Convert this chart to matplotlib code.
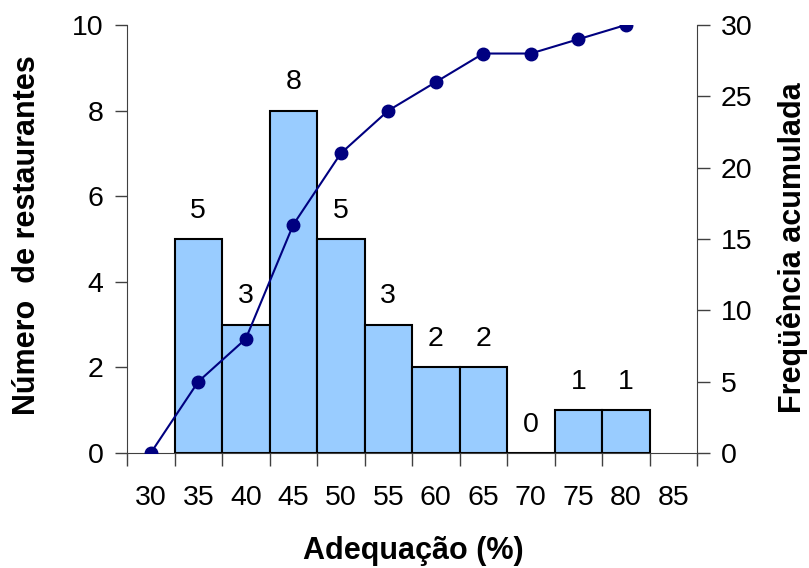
import matplotlib
matplotlib.use("Agg")
import matplotlib.pyplot as plt
import numpy as np

plt.rcParams['font.family'] = ['Liberation Sans', 'DejaVu Sans']

# Category labels (class midpoints, % adequacy)
categories = ["30", "35", "40", "45", "50", "55", "60", "65", "70", "75", "80", "85"]
# Number of restaurants per class (None = no bar/label)
counts = [None, 5, 3, 8, 5, 3, 2, 2, 0, 1, 1, None]
# Cumulative frequency, points for classes 30..80
cumulative = [0, 5, 8, 16, 21, 24, 26, 28, 28, 29, 30]

TICK_FS = 20.5
LABEL_FS = 22

fig = plt.figure(figsize=(8.09, 5.68), dpi=100)
ax = fig.add_axes([0.157, 0.2025, 0.7046, 0.7535])

x = np.arange(len(categories))
bar_x = [i for i, c in enumerate(counts) if c is not None]
bar_h = [c for c in counts if c is not None]

ax.bar(bar_x, bar_h, width=1.0, color="#99CCFF", edgecolor="black",
       linewidth=1.5, zorder=2)
for xi, h in zip(bar_x, bar_h):
    ax.annotate(str(h), (xi, h), xytext=(0, 11), textcoords="offset points",
                ha="center", va="bottom", fontsize=TICK_FS)

ax.set_xlim(-0.5, len(categories) - 0.5)
ax.set_ylim(0, 10)
ax.set_yticks(range(0, 11, 2))
ax.set_xticks(x)
ax.set_xticklabels(categories)
ax.set_xticks(np.arange(-0.5, len(categories), 1.0), minor=True)
ax.tick_params(axis="x", which="major", length=0, pad=23, labelsize=TICK_FS)
ax.tick_params(axis="x", which="minor", length=9, width=1, color="#404040")
ax.tick_params(axis="y", length=9, width=1, labelsize=TICK_FS, color="#404040", pad=8)

for side in ["top", "right"]:
    ax.spines[side].set_visible(False)
ax.spines["left"].set_color("#404040")
ax.spines["bottom"].set_color("#404040")

ax.set_xlabel("Adequação (%)", fontsize=LABEL_FS, fontweight="bold")
ax.xaxis.set_label_coords(0.502, -0.195)
ax.set_ylabel("Número  de restaurantes", fontsize=LABEL_FS, fontweight="bold",
              va="center")
ax.yaxis.set_label_coords(-0.175, 0.51)

ax2 = ax.twinx()
ax2.plot(x[:len(cumulative)], cumulative, color="#000080", linewidth=1.5,
         marker="o", markersize=9, zorder=3)
ax2.set_ylim(0, 30)
ax2.set_yticks(range(0, 31, 5))
ax2.tick_params(axis="y", length=9, width=1, labelsize=TICK_FS, color="#404040", pad=8)
for side in ["top", "left", "bottom"]:
    ax2.spines[side].set_visible(False)
ax2.spines["right"].set_color("#404040")
ax2.set_ylabel("Freqüência acumulada", fontsize=LABEL_FS, fontweight="bold",
               rotation=90, va="center")
ax2.yaxis.set_label_coords(1.167, 0.48)

fig.savefig("out.png", dpi=100)
